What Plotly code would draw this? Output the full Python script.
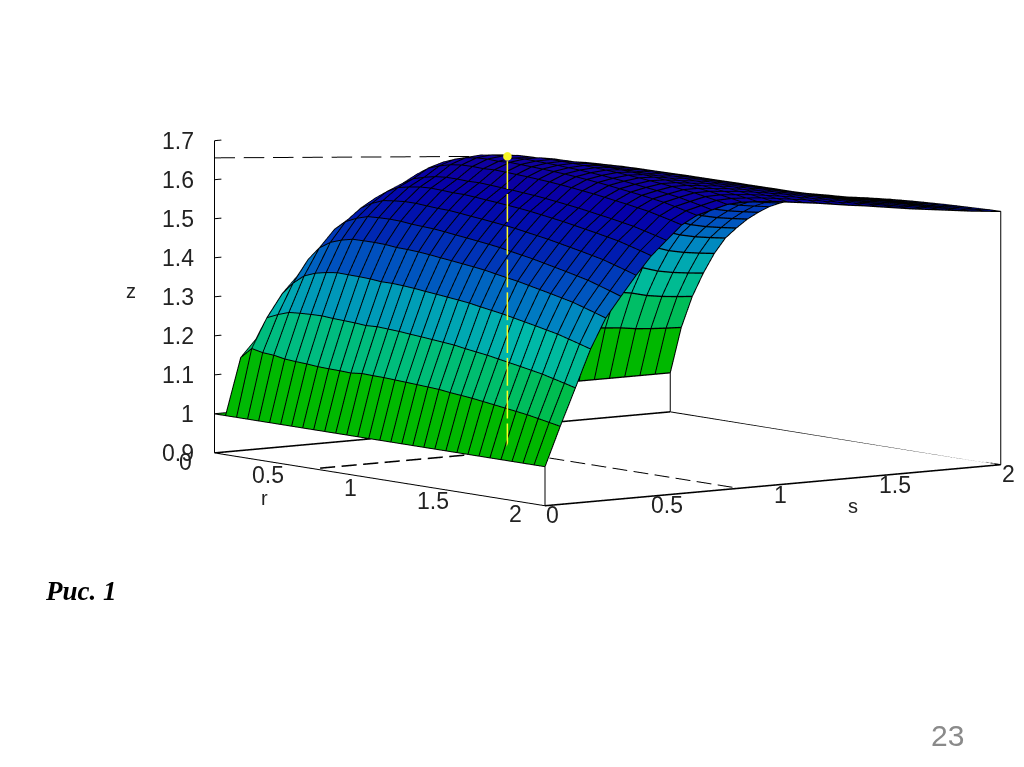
import plotly.graph_objects as go

# values
r_values = [i / 15 for i in range(31)]
s_values = [j / 15 for j in range(31)]
base_z = 1.0
rise_r = [0, .22, .373, .49, .59, .67, .725, .775, .815, .85, .875, .895, .91, .925, .935, .945, .952, .958, .964, .969, .974, .978, .982, .985, .988, .991, .993, .995, .997, .999, 1]
crest_s = [0, .11, .205, .30, .375, .426, .475, .52, .555, .59, .61, .62, .63, .632, .63, .627, .622, .617, .612, .606, .60, .595, .589, .583, .577, .572, .567, .562, .557, .553, .549]
bump_r = [0, .45, .8, .95, 1, 1, .97, .92, .85, .78, .72, .66, .6, .56, .52, .48, .45, .42, .39, .36, .33, .3, .27, .24, .21, .18, .15, .12, .08, .04, 0]
bump_s = [0, .14, .19, .22, .24, .25, .24, .225, .21, .2, .19, .18, .16, .145, .13, .125, .12, .11, .10, .09, .08, .065, .05, .04, .03, .025, .02, .01, .005, .002, 0]
edge_r = [0, .058, .02, -.02, -.04, -.054, -.058, -.058, -.055, -.05, -.045, -.04, -.03, -.027, -.023, -.02, -.018, -.016, -.014, -.012, -.012, -.011, -.01, -.01, -.01, -.01, -.01, -.01, -.01, -.01, -.01]
edge_s = [0, 1, 1, .9, .8, .7, .55, .4, .3, .2, .1, .05, 0, 0, 0, 0, 0, 0, 0, 0, 0, 0, 0, 0, 0, 0, 0, 0, 0, 0, 0]
color_levels = [1.0, 1.08, 1.18, 1.28, 1.36, 1.43, 1.52, 1.6, 1.66]
color_rgb = [(0, 180, 0), (0, 185, 0), (0, 190, 105), (0, 185, 170), (0, 130, 195), (0, 75, 190), (0, 25, 175), (5, 0, 170), (15, 0, 160)]
z_ticks = [0.9, 1, 1.1, 1.2, 1.3, 1.4, 1.5, 1.6, 1.7]
rs_ticks = [0, 0.5, 1, 1.5, 2]
peak_r, peak_s, peak_z = 0.6, 0.85, 1.656
corner_z = [1.0, 1.0, 1.0, 1.549]

# scene set-up
R_RANGE = [0, 2.1]
S_RANGE = [-0.1, 2]
Z_RANGE = [0.89, 1.91]
ZOOM = 2.134
ASPECT = dict(x=1.05 * ZOOM, y=1.0868 * ZOOM, z=0.7283 * ZOOM)
EYE_DIR = (0.794, -0.596, 0.12)
EYE_LEN = 8.0
EYE = dict(x=EYE_DIR[0] * EYE_LEN, y=EYE_DIR[1] * EYE_LEN, z=EYE_DIR[2] * EYE_LEN)
RIBBON = 0.0017


def toward_eye(r, s, z, t):
    """Slide a point along the line of sight: the orthographic picture is unchanged."""
    dr = t * EYE_DIR[0] * (R_RANGE[1] - R_RANGE[0]) / ASPECT["x"]
    ds = t * EYE_DIR[1] * (S_RANGE[1] - S_RANGE[0]) / ASPECT["y"]
    dz = t * EYE_DIR[2] * (Z_RANGE[1] - Z_RANGE[0]) / ASPECT["z"]
    return r + dr, s + ds, z + dz


def dashes(start, end, count, on=0.7):
    """Break a straight segment into count solid dashes, with None gaps between them."""
    out = ([], [], [])
    for n in range(count):
        for f in (n / count, (n + on) / count):
            for c in range(3):
                out[c].append(start[c] + f * (end[c] - start[c]))
        for c in range(3):
            out[c].append(None)
    return out


n_r, n_s = len(r_values), len(s_values)
z_grid = [[base_z + rise_r[i] * crest_s[j] + bump_r[i] * bump_s[j] + edge_r[i] * edge_s[j] for j in range(n_s)] for i in range(n_r)]


def cell_colour(z):
    for k in range(len(color_levels) - 1):
        if z <= color_levels[k + 1]:
            f = max(0, (z - color_levels[k]) / (color_levels[k + 1] - color_levels[k]))
            a, b = color_rgb[k], color_rgb[k + 1]
            return "rgb(%d,%d,%d)" % tuple(round(a[c] + f * (b[c] - a[c])) for c in range(3))
    return "rgb(%d,%d,%d)" % color_rgb[-1]


xs, ys, zs, ii, jj, kk, fc = [], [], [], [], [], [], []
for i in range(n_r):
    for j in range(n_s):
        xs.append(r_values[i]); ys.append(s_values[j]); zs.append(z_grid[i][j])
for i in range(n_r - 1):
    for j in range(n_s - 1):
        a = i * n_s + j
        b = a + 1
        c = a + n_s
        d = c + 1
        col = cell_colour((z_grid[i][j] + z_grid[i + 1][j] + z_grid[i][j + 1] + z_grid[i + 1][j + 1]) / 4)
        ii += [a, b]; jj += [b, d]; kk += [c, c]; fc += [col, col]

fig = go.Figure()
fig.add_trace(go.Mesh3d(x=xs, y=ys, z=zs, i=ii, j=jj, k=kk, facecolor=fc, flatshading=True,
                        lighting=dict(ambient=1, diffuse=0, specular=0, fresnel=0, roughness=1),
                        hoverinfo="skip", showscale=False))

# mesh lines
lx, ly, lz = [], [], []
for i in range(n_r):
    for j in range(n_s):
        p = toward_eye(r_values[i], s_values[j], z_grid[i][j], 0.004 * ZOOM)
        lx.append(p[0]); ly.append(p[1]); lz.append(p[2])
    lx.append(None); ly.append(None); lz.append(None)
for j in range(n_s):
    for i in range(n_r):
        p = toward_eye(r_values[i], s_values[j], z_grid[i][j], 0.004 * ZOOM)
        lx.append(p[0]); ly.append(p[1]); lz.append(p[2])
    lx.append(None); ly.append(None); lz.append(None)
fig.add_trace(go.Scatter3d(x=lx, y=ly, z=lz, mode="lines", line=dict(color="black", width=2), hoverinfo="skip", showlegend=False))

# box lines
r0, r1 = rs_ticks[0], rs_ticks[-1]
s0, s1 = rs_ticks[0], rs_ticks[-1]
zb = z_ticks[0]
zt = z_ticks[-1]
bx = [r0, r1, None, r1, r0, None, r0, r0, None, r1, r1, None, r0, r0, None, r1, r1]
by = [s0, s0, None, s1, s1, None, s0, s0, None, s0, s0, None, s1, s1, None, s1, s1]
bz = [zb, zb, None, zb, zb, None, zb, zt, None, zb, corner_z[1], None, zb, corner_z[2], None, zb, corner_z[3]]
for t in z_ticks:
    bx += [None, r0, r0]; by += [None, s0, s0 + 0.03]; bz += [None, t, t]
fig.add_trace(go.Scatter3d(x=bx, y=by, z=bz, mode="lines", line=dict(color="black", width=2), hoverinfo="skip", showlegend=False))

# dashed lines to the peak
top = dashes((r0, s0, peak_z), (peak_r, peak_s, peak_z), 10)
right = dashes((peak_r, peak_s, zb), (r1, peak_s, zb), 11)
dx, dy, dz = top[0] + right[0], top[1] + right[1], top[2] + right[2]
fig.add_trace(go.Scatter3d(x=dx, y=dy, z=dz, mode="lines", line=dict(color="black", width=2), hoverinfo="skip", showlegend=False))

# lines running along s: thin ribbons, because nearly flat GL lines fade out
rx, ry, rz, ra, rb, rc = [], [], [], [], [], []


def ribbon(p, q, half=RIBBON):
    n = len(rx)
    for pt, sign in ((p, -1), (p, 1), (q, -1), (q, 1)):
        rx.append(pt[0]); ry.append(pt[1]); rz.append(pt[2] + sign * half)
    ra.extend([n, n + 1]); rb.extend([n + 1, n + 3]); rc.extend([n + 2, n + 2])


for i in range(n_r):
    for j in range(n_s - 1):
        ribbon(toward_eye(r_values[i], s_values[j], z_grid[i][j], 0.004 * ZOOM),
               toward_eye(r_values[i], s_values[j + 1], z_grid[i][j + 1], 0.004 * ZOOM))
ribbon((r1, s0, zb), (r1, s1, zb), 0.002)
ribbon((r0, s0, zb), (r0, s1, zb), 0.002)
left = dashes((peak_r, peak_s, zb), (peak_r, s0, zb), 9)
for n in range(0, len(left[0]), 3):
    ribbon((left[0][n], left[1][n], left[2][n]), (left[0][n + 1], left[1][n + 1], left[2][n + 1]), 0.002)
fig.add_trace(go.Mesh3d(x=rx, y=ry, z=rz, i=ra, j=rb, k=rc, color="black", flatshading=True,
                        lighting=dict(ambient=1, diffuse=0, specular=0, fresnel=0, roughness=1),
                        hoverinfo="skip", showscale=False))

T_FRONT = 0.72 * ZOOM
low = toward_eye(peak_r, peak_s, zb, T_FRONT)
high = toward_eye(peak_r, peak_s, peak_z, T_FRONT)
ydash = dashes(low, high, 9, on=0.85)
fig.add_trace(go.Scatter3d(x=ydash[0], y=ydash[1], z=ydash[2], mode="lines",
                           line=dict(color="#ffff20", width=3), hoverinfo="skip", showlegend=False))
fig.add_trace(go.Scatter3d(x=[high[0]], y=[high[1]], z=[high[2]], mode="markers",
                           marker=dict(color="#f5f52a", size=5), hoverinfo="skip", showlegend=False))

FONT = dict(family="Liberation Sans", size=23, color="#222222")
TITLE_FONT = dict(family="Liberation Sans", size=20, color="#222222")
ann = []
for t in z_ticks:
    ann.append(dict(x=r0, y=s0, z=t, text=str(t), showarrow=False, xanchor="right", xshift=-18, yshift=0, font=FONT))
for t in rs_ticks:
    ann.append(dict(x=t, y=s0, z=zb, text=str(t), showarrow=False, xshift=-29, yshift=-9, font=FONT))
    ann.append(dict(x=r1, y=t, z=zb, text=str(t), showarrow=False, xshift=8, yshift=-10, font=FONT))
ann.append(dict(x=0.5, y=s0, z=zb, text="r", showarrow=False, xshift=-32, yshift=-32, font=TITLE_FONT))
ann.append(dict(x=r1, y=1.35, z=zb, text="s", showarrow=False, xshift=0, yshift=-28, font=TITLE_FONT))
ann.append(dict(x=r0, y=s0, z=1.315, text="z", showarrow=False, xshift=-83, yshift=0, font=TITLE_FONT))


def hidden_axis(rng):
    return dict(range=rng, visible=False, autorange=False)


fig.update_layout(
    width=1016, height=759, margin=dict(l=0, r=0, t=0, b=0), paper_bgcolor="white", showlegend=False,
    scene=dict(
        domain=dict(x=[0.174, 1], y=[0.3206, 1]),
        xaxis=hidden_axis(R_RANGE), yaxis=hidden_axis(S_RANGE), zaxis=hidden_axis(Z_RANGE),
        aspectmode="manual", aspectratio=ASPECT,
        camera=dict(eye=EYE, up=dict(x=0, y=0, z=1), center=dict(x=0, y=0, z=0), projection=dict(type="orthographic")),
        annotations=ann,
    ),
    annotations=[
        dict(text="<b><i>Рис. 1</i></b>", xref="paper", yref="paper", x=73 / 1016, y=1 - 583 / 759, showarrow=False,
             xanchor="center", yanchor="middle", font=dict(family="Liberation Serif", size=27, color="black")),
        dict(text="23", xref="paper", yref="paper", x=939 / 1016, y=1 - 727 / 759, showarrow=False,
             xanchor="center", yanchor="middle", font=dict(family="Liberation Sans", size=30, color="#8a8a8a")),
    ],
)
fig.write_html("out.html")
